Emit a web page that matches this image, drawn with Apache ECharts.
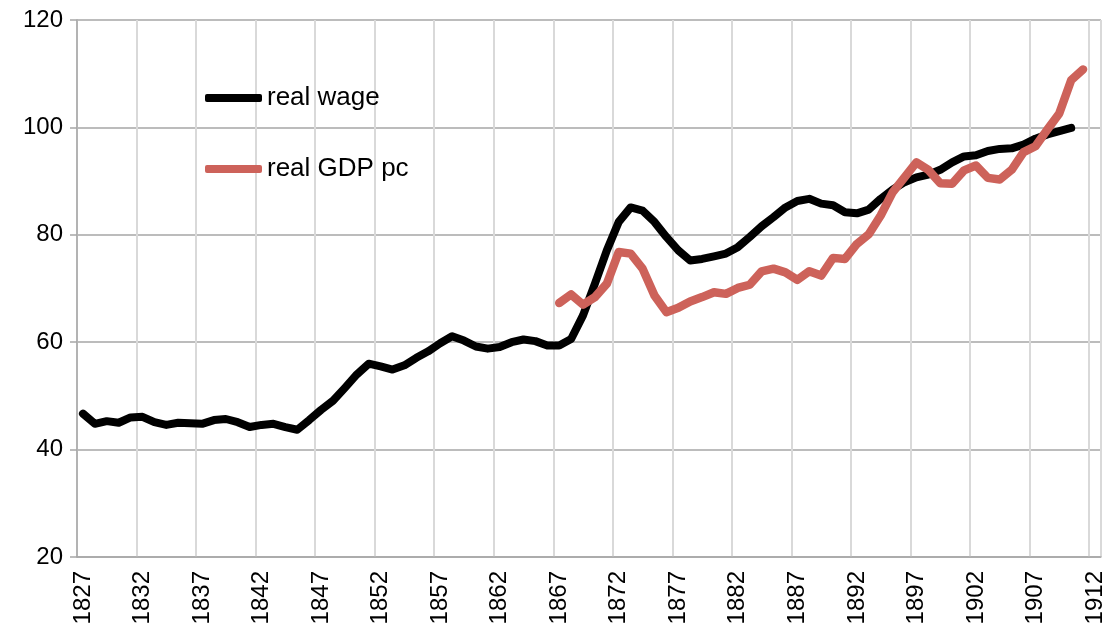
<!DOCTYPE html>
<html>
<head>
<meta charset="utf-8">
<script src="https://cdn.jsdelivr.net/npm/echarts@6/dist/echarts.min.js"></script>
<style>
  html, body { margin: 0; padding: 0; background: #fff; }
  #chart { width: 1107px; height: 628px; }
</style>
</head>
<body>
<div id="chart"></div>
<script>
// categories: one per year
var years = ['1827','1828','1829','1830','1831','1832','1833','1834','1835','1836',
  '1837','1838','1839','1840','1841','1842','1843','1844','1845','1846',
  '1847','1848','1849','1850','1851','1852','1853','1854','1855','1856',
  '1857','1858','1859','1860','1861','1862','1863','1864','1865','1866',
  '1867','1868','1869','1870','1871','1872','1873','1874','1875','1876',
  '1877','1878','1879','1880','1881','1882','1883','1884','1885','1886',
  '1887','1888','1889','1890','1891','1892','1893','1894','1895','1896',
  '1897','1898','1899','1900','1901','1902','1903','1904','1905','1906',
  '1907','1908','1909','1910','1911','1912']

// real wage, 1827 - 1910
var realWage = [46.7, 44.8, 45.3, 45.0, 46.0, 46.1, 45.1, 44.6, 45.0, 44.9,
  44.8, 45.5, 45.7, 45.1, 44.2, 44.6, 44.8, 44.2, 43.7, 45.5,
  47.4, 49.1, 51.5, 54.0, 56.0, 55.5, 54.9, 55.7, 57.1, 58.3,
  59.8, 61.1, 60.3, 59.2, 58.8, 59.1, 60.0, 60.5, 60.2, 59.4,
  59.4, 60.6, 65.0, 70.9, 77.1, 82.4, 85.1, 84.5, 82.4, 79.6,
  77.1, 75.2, 75.5, 76.0, 76.5, 77.7, 79.6, 81.6, 83.3, 85.1,
  86.3, 86.7, 85.8, 85.5, 84.2, 84.0, 84.7, 86.7, 88.4, 89.8,
  90.7, 91.2, 92.1, 93.5, 94.6, 94.8, 95.6, 96.0, 96.1, 96.8,
  97.9, 98.7, 99.3, 99.9]

// real GDP per capita, 1867 - 1911
var gdpStart = '1867'
var realGdpPc = [67.3, 68.9, 67.0, 68.4, 70.9, 76.8, 76.5, 73.7, 68.7, 65.6,
  66.4, 67.6, 68.4, 69.3, 69.0, 70.1, 70.7, 73.2, 73.7, 73.0,
  71.6, 73.2, 72.4, 75.7, 75.5, 78.3, 80.1, 83.6, 87.9, 90.7,
  93.5, 92.1, 89.6, 89.5, 92.0, 92.9, 90.6, 90.3, 92.1, 95.4,
  96.5, 99.6, 102.6, 108.8, 110.8]

var yTicks = [20, 40, 60, 80, 100, 120]

// line up each series on the year categories
function alignTo (startYear, values) {
  var offset = years.indexOf(startYear)
  return years.map(function (y, i) {
    var v = values[i - offset]
    return v === undefined ? null : v
  })
}

var FONT = 'Arial, "Liberation Sans", sans-serif'

var option = {
  animation: false,
  grid: {
    left: 77,
    right: 5,
    top: 20,
    bottom: 71
  },
  legend: {
    orient: 'vertical',
    left: 200,
    top: 80,
    itemWidth: 57,
    itemHeight: 8,
    itemGap: 45,
    icon: 'roundRect',
    textStyle: {
      fontSize: 26,
      color: '#000',
      fontFamily: FONT
    },
    data: ['real wage', 'real GDP pc']
  },
  xAxis: {
    type: 'category',
    data: years,
    boundaryGap: true,
    axisLine: { lineStyle: { color: '#a6a6a6', width: 1.5 } },
    axisTick: { interval: 4, length: 6, lineStyle: { color: '#a6a6a6', width: 1.5 } },
    axisLabel: {
      interval: 4,
      rotate: 90,
      margin: 14,
      fontSize: 24,
      color: '#000',
      fontFamily: FONT
    },
    splitLine: {
      show: true,
      interval: 4,
      lineStyle: { color: '#d9d9d9', width: 2 }
    }
  },
  yAxis: {
    type: 'value',
    min: yTicks[0],
    max: yTicks[yTicks.length - 1],
    interval: 20,
    axisLine: { show: true, lineStyle: { color: '#a6a6a6', width: 1.5 } },
    axisTick: { show: true, length: 7, lineStyle: { color: '#a6a6a6', width: 1.5 } },
    axisLabel: {
      margin: 14,
      fontSize: 24,
      color: '#000',
      fontFamily: FONT
    },
    splitLine: { lineStyle: { color: '#a6a6a6', width: 1.5 } }
  },
  series: [
    {
      name: 'real wage',
      type: 'line',
      showSymbol: false,
      data: alignTo('1827', realWage),
      itemStyle: { color: '#000' },
      lineStyle: { color: '#000', width: 8, cap: 'round', join: 'round' }
    },
    {
      name: 'real GDP pc',
      type: 'line',
      showSymbol: false,
      data: alignTo(gdpStart, realGdpPc),
      itemStyle: { color: '#cd625a' },
      lineStyle: { color: '#cd625a', width: 8.5, cap: 'round', join: 'round' }
    }
  ]
}

var myChart = echarts.init(document.getElementById('chart'))
myChart.setOption(option)
</script>
</body>
</html>
